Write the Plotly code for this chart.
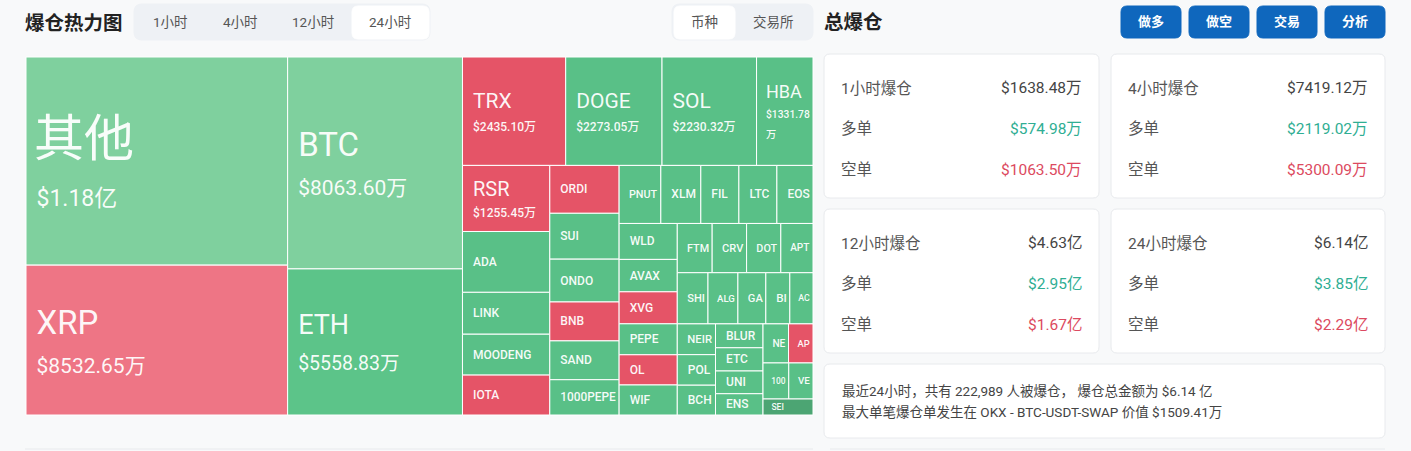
import math

import plotly.graph_objects as go

W = 1411
H = 451
FONT = "Roboto, 'Noto Sans CJK SC', sans-serif"

# amounts in 万 USD, small coins
coins = ["其他", "XRP", "BTC", "ETH", "TRX", "DOGE", "SOL", "HBA", "RSR", "ADA", "LINK", "MOODENG", "IOTA",
         "ORDI", "SUI", "ONDO", "BNB", "SAND", "1000PEPE", "PNUT", "XLM", "FIL", "LTC", "EOS",
         "WLD", "AVAX", "XVG", "PEPE", "OL", "WIF", "FTM", "CRV", "DOT", "APT", "SHI", "ALG", "GA", "BI", "AC",
         "NEIR", "POL", "BCH", "BLUR", "ETC", "UNI", "ENS", "NE", "AP", "100", "VE", "SEI"]
amounts = [11850, 8532.65, 8063.60, 5558.83, 2435.10, 2273.05, 2230.32, 1331.78, 1255.45, 1156, 796, 777, 758,
           722, 692, 646, 587, 586, 532, 527, 505, 481, 480, 456,
           455, 410, 405, 392, 382, 380, 374, 369, 367, 345, 342, 333, 311, 267, 258,
           256, 254, 248, 247, 240, 235, 220, 217, 208, 202, 190, 174]
amount_labels = ["$1.18亿", "$8532.65万", "$8063.60万", "$5558.83万", "$2435.10万", "$2273.05万", "$2230.32万",
                 "$1331.78<br>万", "$1255.45万"] + [""] * 42
short_coins = ["XRP", "TRX", "RSR", "IOTA", "ORDI", "BNB", "XVG", "OL", "AP"]

tabs = ["1小时", "4小时", "12小时", "24小时"]
tab_x = [170, 240, 313, 390]
modes = ["币种", "交易所"]
mode_x = [704, 773]
buttons = ["做多", "做空", "交易", "分析"]
card_titles = ["1小时爆仓", "4小时爆仓", "12小时爆仓", "24小时爆仓"]
card_totals = ["$1638.48万", "$7419.12万", "$4.63亿", "$6.14亿"]
card_longs = ["$574.98万", "$2119.02万", "$2.95亿", "$3.85亿"]
card_shorts = ["$1063.50万", "$5300.09万", "$1.67亿", "$2.29亿"]
summary = ["最近24小时，共有 222,989 人被爆仓， 爆仓总金额为 $6.14 亿",
           "最大单笔爆仓单发生在 OKX - BTC-USDT-SWAP 价值 $1509.41万"]


def cell_color(name, val):
    if name in short_coins:
        return "rgb(238,117,133)" if val > 5000 else "rgb(229,84,103)"
    if val > 8000:
        return "rgb(127,208,158)"
    if val > 5000:
        return "rgb(92,196,137)"
    if val < 180:
        return "rgb(76,165,115)"
    return "rgb(89,192,135)"


def label_sizes(val):
    # name size, amount size, line gap
    if val > 10000:
        return 50, 23, 39
    if val > 8000:
        return 33, 21, 30
    if val > 5000:
        return 27, 19.5, 27
    if val > 1300:
        return 21, 12, 18
    if val > 1200:
        return 20, 12, 16
    return 12, 12, 12


def line(s, size, pad):
    # blanks of known width set the left inset, never taller than the text beside them
    n = math.ceil(pad / (0.2476 * size))
    weight = 500 if size <= 12 else 400
    return ('<span style="font-size:%.1fpx">%s</span><span style="font-size:%gpx;font-weight:%d">%s</span>'
            % (pad / (0.2476 * n), "\u00a0" * n, size, weight, s))


cell_text = []
cell_sizes = []
for name, val, lab in zip(coins, amounts, amount_labels):
    big, small, gap = label_sizes(val)
    t = line(name, big, 5 if name == "其他" else 7.5)
    if lab:
        for part in lab.split("<br>"):
            t += "<br>" + line(part, small, 7.5)
    cell_text.append(t)
    cell_sizes.append(gap)

fig = go.Figure(go.Treemap(
    labels=coins,
    parents=[""] * len(coins),
    values=amounts,
    text=cell_text,
    texttemplate="%{text}",
    textposition="middle left",
    textfont=dict(size=cell_sizes, color="rgba(255,255,255,0.95)", family=FONT),
    marker=dict(colors=[cell_color(n, v) for n, v in zip(coins, amounts)],
                line=dict(color="white", width=1), pad=dict(t=0, l=0, r=0, b=0)),
    tiling=dict(packing="squarify", squarifyratio=1.618, pad=0),
    pathbar=dict(visible=False),
    domain=dict(x=[26 / W, 813 / W], y=[1 - 415 / H, 1 - 57 / H]),
    hoverinfo="label+value",
))


def box(x0, y0, x1, y1, fill, r=6, edge=None):
    # rounded rectangle in page pixels
    path = ("M %f,%f L %f,%f Q %f,%f %f,%f L %f,%f Q %f,%f %f,%f L %f,%f Q %f,%f %f,%f L %f,%f Q %f,%f %f,%f Z" % (
        x0 + r, y0, x1 - r, y0, x1, y0, x1, y0 + r, x1, y1 - r, x1, y1, x1 - r, y1,
        x0 + r, y1, x0, y1, x0, y1 - r, x0, y0 + r, x0, y0, x0 + r, y0))
    fig.add_shape(type="path", path=path, xref="x", yref="y", fillcolor=fill, layer="below",
                  line=dict(color=edge or fill, width=1))


def put(x, y, s, size=15, color="#555", anchor="left", bold=False):
    if bold:
        s = "<b>%s</b>" % s
    fig.add_annotation(x=x, y=y, text=s, xref="x", yref="y", showarrow=False, xanchor=anchor, yanchor="middle",
                       borderpad=0, borderwidth=0, font=dict(size=size, color=color, family=FONT))


# left header
put(25, 23, "爆仓热力图", 19.5, "#222", bold=True)
box(134, 4, 430, 40, "#eef1f5", 8)
box(352, 6, 429, 39, "white", 6)
for t, x in zip(tabs, tab_x):
    put(x, 22, t, 13.5, "#555", "center")
box(672, 4, 813, 40, "#eef1f5", 8)
box(674, 6, 735, 39, "white", 6)
for t, x in zip(modes, mode_x):
    put(x, 22, t, 13.5, "#555", "center")

# right header
put(824, 22, "总爆仓", 19.5, "#222", bold=True)
for i, t in enumerate(buttons):
    x0 = 1121 + i * 68
    box(x0, 6, x0 + 60, 38, "#0f67bd", 6)
    put(x0 + 30, 21, t, 13, "white", "center", bold=True)

# cards
card_x = [(824, 1099), (1111, 1385), (824, 1099), (1111, 1385)]
card_y = [54, 54, 209, 209]
for i in range(4):
    x0, x1 = card_x[i]
    y0 = card_y[i]
    box(x0, y0, x1, y0 + 144, "white", 6, "#e8eaed")
    put(x0 + 17, y0 + 34, card_titles[i], 15.5, "#555")
    put(x1 - 17, y0 + 34, card_totals[i], 15.5, "#444", "right")
    put(x0 + 17, y0 + 75, "多单", 15.5, "#555")
    put(x1 - 17, y0 + 75, card_longs[i], 15.5, "#2fae93", "right")
    put(x0 + 17, y0 + 116, "空单", 15.5, "#555")
    put(x1 - 17, y0 + 116, card_shorts[i], 15.5, "#dc4a60", "right")
box(824, 364, 1385, 438, "white", 6, "#e8eaed")
put(842, 391, summary[0], 13.5, "#444")
put(842, 412, summary[1], 13.5, "#444")

# top edge of the next row of cards
fig.add_shape(type="line", x0=25, x1=813, y0=449, y1=449, xref="x", yref="y", line=dict(color="#e8eaed", width=1), layer="below")
fig.add_shape(type="line", x0=830, x1=1385, y0=449, y1=449, xref="x", yref="y", line=dict(color="#e8eaed", width=1), layer="below")

fig.update_layout(
    width=W, height=H,
    margin=dict(l=0, r=0, t=0, b=0),
    paper_bgcolor="#f8f9fa",
    plot_bgcolor="rgba(0,0,0,0)",
    showlegend=False,
    xaxis=dict(range=[0, W], visible=False, fixedrange=True, domain=[0, 1]),
    yaxis=dict(range=[H, 0], visible=False, fixedrange=True, domain=[0, 1]),
)
fig.write_html("out.html", config=dict(displayModeBar=False),
               post_script="document.body.style.margin='0';document.body.style.overflow='hidden';")
